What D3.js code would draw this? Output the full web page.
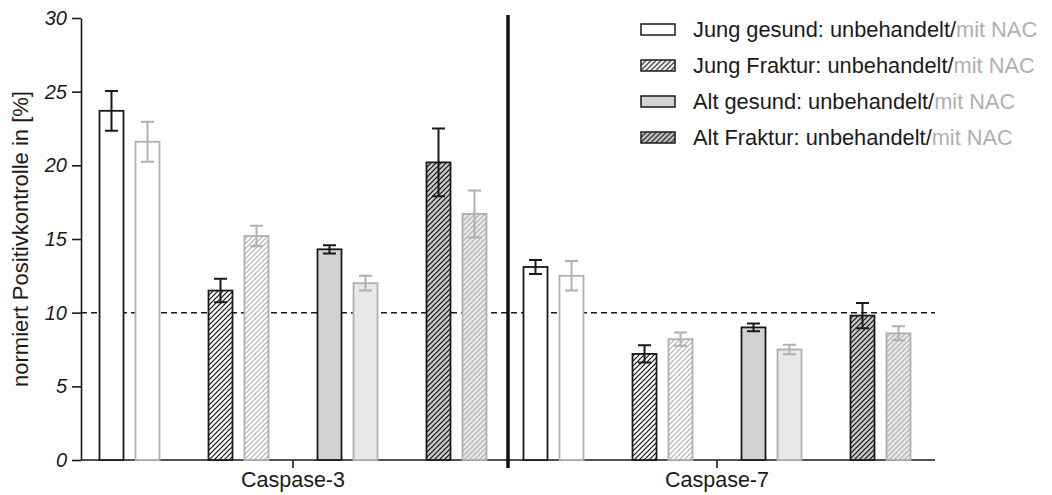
<!DOCTYPE html>
<html>
<head>
<meta charset="utf-8">
<script src="https://cdn.jsdelivr.net/npm/d3@7"></script>
<style>
  body { margin: 0; background: #fff; }
  svg { font-family: "Liberation Sans", Arial, sans-serif; }
  .axis path, .axis line { stroke: #1a1a1a; stroke-width: 1.6px; }
  .axis text { fill: #1a1a1a; }
</style>
</head>
<body>
<svg id="chart"></svg>
<script>
// Data
const categories = ['Caspase-3', 'Caspase-7'];
const groups = ['Jung gesund', 'Jung Fraktur', 'Alt gesund', 'Alt Fraktur'];
const treatments = ['unbehandelt', 'mit NAC'];

// means per group, [unbehandelt, mit NAC]
const casp3Means = [[23.7, 21.6], [11.5, 15.2], [14.3, 12.0], [20.2, 16.7]];
const casp3Errs  = [[1.35, 1.35], [0.8, 0.7], [0.28, 0.5], [2.3, 1.6]];
const casp7Means = [[13.1, 12.5], [7.2, 8.2], [9.0, 7.5], [9.8, 8.6]];
const casp7Errs  = [[0.48, 1.0], [0.59, 0.45], [0.26, 0.32], [0.85, 0.48]];

const yTicks = [0, 5, 10, 15, 20, 25, 30];
const refLine = 10;

class GroupedBarChart {

  constructor(_config, _data) {
    this.config = {
      parentElement: _config.parentElement,
      containerWidth: 1052,
      containerHeight: 495,
      margin: { top: 18, right: 117, bottom: 35, left: 81 }
    }
    this.data = _data;
    this.initVis();
  }

  initVis() {
    let vis = this;
    vis.width = vis.config.containerWidth - vis.config.margin.left - vis.config.margin.right;
    vis.height = vis.config.containerHeight - vis.config.margin.top - vis.config.margin.bottom;

    vis.svg = d3.select(vis.config.parentElement)
      .attr('width', vis.config.containerWidth)
      .attr('height', vis.config.containerHeight);

    // hatch patterns: black on white, grey on white, black on grey, grey on light grey
    const defs = vis.svg.append('defs');
    const hatch = (id, bg, fg) => {
      const p = defs.append('pattern')
        .attr('id', id)
        .attr('patternUnits', 'userSpaceOnUse')
        .attr('width', 5)
        .attr('height', 5);
      p.append('rect').attr('width', 5).attr('height', 5).attr('fill', bg);
      p.append('path')
        .attr('d', 'M-1,6 L6,-1 M-2,2 L2,-2 M3,7 L7,3')
        .attr('stroke', fg)
        .attr('stroke-width', 1.2);
    };
    hatch('hatch-black', '#ffffff', '#111111');
    hatch('hatch-grey', '#ffffff', '#b0b0b0');
    hatch('hatch-black-grey', '#c9c9c9', '#111111');
    hatch('hatch-grey-light', '#e8e8e8', '#b0b0b0');

    vis.chartArea = vis.svg.append('g')
      .attr('transform', `translate(${vis.config.margin.left},${vis.config.margin.top})`);

    vis.xScale = d3.scaleBand()
      .domain(categories)
      .range([0, 848]);

    vis.groupScale = d3.scaleBand()
      .domain(groups)
      .range([-193.5, 193.5])
      .paddingInner(49 / 109);

    vis.treatScale = d3.scaleBand()
      .domain(treatments)
      .range([0, vis.groupScale.bandwidth()])
      .paddingInner(1 / 3);

    vis.yScale = d3.scaleLinear()
      .domain([0, 30])
      .range([vis.height, 0]);

    vis.xAxis = d3.axisBottom(vis.xScale)
      .tickSize(8)
      .tickSizeOuter(0)
      .tickPadding(4);

    vis.yAxis = d3.axisLeft(vis.yScale)
      .tickValues(yTicks)
      .tickSize(9)
      .tickSizeOuter(0)
      .tickPadding(5);

    vis.xAxisG = vis.chartArea.append('g')
      .attr('class', 'axis x-axis')
      .attr('transform', `translate(0,${vis.height})`);

    vis.yAxisG = vis.chartArea.append('g')
      .attr('class', 'axis y-axis');

    vis.svg.append('text')
      .attr('transform', `translate(28,${vis.config.margin.top + vis.height / 2}) rotate(-90)`)
      .attr('text-anchor', 'middle')
      .style('font-size', '22px')
      .attr('fill', '#1a1a1a')
      .text('normiert Positivkontrolle in [%]');
  }

  updateVis() {
    let vis = this;
    vis.styleFor = (g, t) => {
      const nac = t === 'mit NAC';
      const stroke = nac ? '#b0b0b0' : '#1a1a1a';
      let fill = '#ffffff';
      if (g === 'Jung Fraktur') fill = nac ? 'url(#hatch-grey)' : 'url(#hatch-black)';
      if (g === 'Alt gesund') fill = nac ? '#e8e8e8' : '#d3d3d3';
      if (g === 'Alt Fraktur') fill = nac ? 'url(#hatch-grey-light)' : 'url(#hatch-black-grey)';
      return { stroke, fill };
    };
    vis.renderVis();
  }

  renderVis() {
    let vis = this;
    const bw = vis.treatScale.bandwidth();
    const xPos = d => vis.xScale(d.category) + vis.xScale.bandwidth() / 2
      + vis.groupScale(d.group) + vis.treatScale(d.treatment);

    // reference line
    vis.chartArea.append('line')
      .attr('x1', 0)
      .attr('x2', 854)
      .attr('y1', vis.yScale(refLine))
      .attr('y2', vis.yScale(refLine))
      .attr('stroke', '#1a1a1a')
      .attr('stroke-width', 1.5)
      .attr('stroke-dasharray', '6,4');

    const bars = vis.chartArea.selectAll('.bar-g')
      .data(vis.data)
      .join('g')
      .attr('class', 'bar-g');

    bars.append('rect')
      .attr('x', d => xPos(d))
      .attr('width', bw)
      .attr('y', d => vis.yScale(d.value))
      .attr('height', d => vis.yScale(0) - vis.yScale(d.value))
      .attr('fill', d => vis.styleFor(d.group, d.treatment).fill)
      .attr('stroke', d => vis.styleFor(d.group, d.treatment).stroke)
      .attr('stroke-width', 1.8);

    // error bars
    const cap = 6.5;
    bars.append('path')
      .attr('d', d => {
        const cx = xPos(d) + bw / 2;
        const y1 = vis.yScale(d.value + d.err);
        const y0 = vis.yScale(d.value - d.err);
        return `M${cx - cap},${y1}H${cx + cap}M${cx},${y1}V${y0}M${cx - cap},${y0}H${cx + cap}`;
      })
      .attr('fill', 'none')
      .attr('stroke', d => vis.styleFor(d.group, d.treatment).stroke)
      .attr('stroke-width', 2);

    vis.xAxisG.call(vis.xAxis);
    vis.yAxisG.call(vis.yAxis);

    vis.xAxisG.select('.domain').attr('d', 'M0,0H854');
    vis.xAxisG.selectAll('text').style('font-size', '21.5px');
    vis.yAxisG.selectAll('text')
      .style('font-size', '20px')
      .style('font-style', 'italic');

    // divider between the two caspases
    vis.chartArea.append('line')
      .attr('x1', vis.xScale('Caspase-7') + 3)
      .attr('x2', vis.xScale('Caspase-7') + 3)
      .attr('y1', -3)
      .attr('y2', vis.height + 8)
      .attr('stroke', '#111')
      .attr('stroke-width', 3.5);

    // legend
    const legend = vis.svg.append('g')
      .attr('transform', 'translate(641,29.5)');
    const rows = legend.selectAll('.legend-row')
      .data(groups)
      .join('g')
      .attr('class', 'legend-row')
      .attr('transform', (d, i) => `translate(0,${i * 36})`);
    rows.append('rect')
      .attr('x', 0)
      .attr('y', -5.5)
      .attr('width', 34)
      .attr('height', 11)
      .attr('fill', d => vis.styleFor(d, 'unbehandelt').fill)
      .attr('stroke', '#1a1a1a')
      .attr('stroke-width', 1.5);
    const txt = rows.append('text')
      .attr('x', 52)
      .attr('y', 7.8)
      .style('font-size', '21.8px');
    txt.append('tspan').attr('fill', '#1a1a1a').text(d => `${d}: unbehandelt/`);
    txt.append('tspan').attr('fill', '#b0b0b0').text('mit NAC');
  }
}

// build the flat table for the chart
const table = [];
[[casp3Means, casp3Errs], [casp7Means, casp7Errs]].forEach(([means, errs], ci) => {
  groups.forEach((g, gi) => {
    treatments.forEach((t, ti) => {
      table.push({ category: categories[ci], group: g, treatment: t, value: means[gi][ti], err: errs[gi][ti] });
    });
  });
});

const chart = new GroupedBarChart({ parentElement: '#chart' }, table);
chart.updateVis();
</script>
</body>
</html>
